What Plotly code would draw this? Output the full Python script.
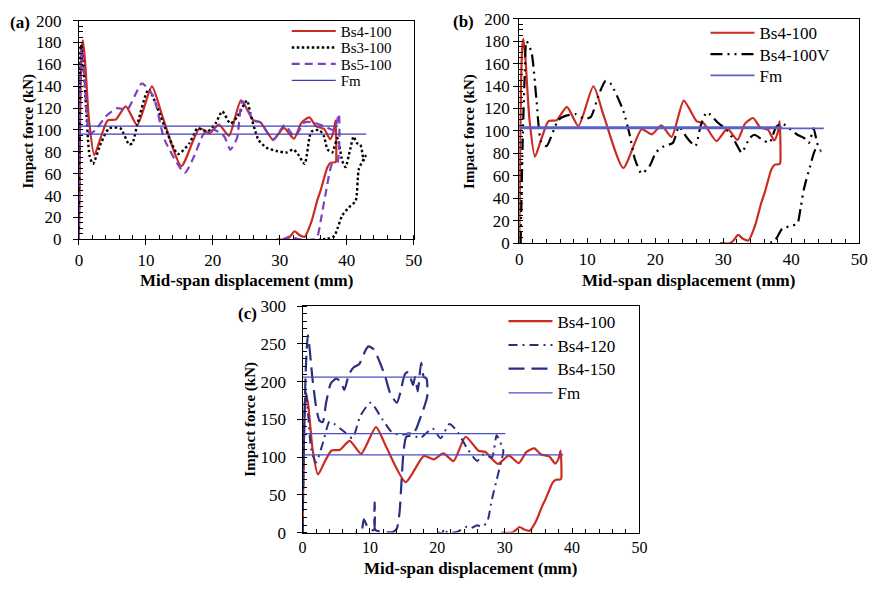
import plotly.graph_objects as go

# ---------------- data ----------------
# Bs4-100 (shared by panels a, b, c)
bs4_100_x = [0.0, 0.1, 0.25, 0.45, 0.6, 0.9, 1.5, 2.3, 3.2, 4.3, 5.5, 7.0, 8.7, 10.9, 12.5,
             15.3, 18.0, 19.5, 20.9, 22.4, 24.2, 26.1, 27.1, 29.0, 30.6, 32.1, 33.2, 34.4,
             35.4, 36.6, 37.5, 38.0, 38.3, 38.4, 38.3, 37.6, 37.1, 36.1, 35.6, 34.7, 33.7,
             32.9, 32.2, 31.5, 31.0, 29.5]
bs4_100_f = [0.0, 60.0, 140.0, 176.0, 182.0, 165.0, 110.0, 77.0, 92.0, 108.8, 109.5, 121.5, 104.4,
             139.8, 112.0, 67.0, 101.5, 97.0, 105.0, 94.7, 127.0, 108.5, 107.0, 91.0, 102.0, 92.0,
             106.5, 111.5, 103.5, 101.0, 91.5, 98.0, 108.5, 72.0, 70.5, 70.0, 66.0, 45.0, 36.0,
             16.0, 2.4, 4.0, 7.4, 2.4, 0.0, 0.0]

# Bs3-100
bs3_100_x = [0.0, 0.1, 0.3, 0.6, 1.1, 1.6, 2.1, 3.3, 4.5, 6.2, 7.5, 8.0, 8.7, 10.4, 12.8, 14.8,
             16.5, 17.7, 19.2, 20.4, 21.4, 22.6, 23.6, 25.1, 25.6, 26.8, 28.0, 29.5, 31.0, 32.0,
             32.7, 33.7, 34.4, 34.7, 35.9, 36.6, 37.1, 37.8, 38.6, 39.3, 39.8, 40.5, 41.0, 41.5,
             42.0, 42.3, 42.5, 42.8, 41.8, 41.3, 40.3, 39.3, 38.6, 38.1, 37.1, 35.9]
bs3_100_f = [0.0, 80.0, 178.0, 165.0, 117.7, 76.4, 69.0, 88.0, 101.5, 101.5, 86.7, 88.0, 104.4,
             137.0, 103.0, 78.0, 88.0, 101.5, 98.5, 106.0, 117.0, 106.0, 111.8, 127.0, 114.8, 91.0,
             83.8, 80.8, 79.4, 82.3, 77.9, 69.0, 92.6, 98.5, 100.0, 94.0, 82.3, 79.4, 92.6, 72.0,
             66.0, 82.3, 94.0, 88.0, 86.7, 79.4, 72.0, 76.4, 64.6, 35.0, 29.2, 21.8, 10.0, 2.7,
             0.6, 0.0]

# Bs5-100
bs5_100_x = [0.0, 0.1, 0.35, 0.8, 1.6, 2.5, 4.0, 5.7, 7.2, 8.4, 9.4, 11.1, 12.8, 15.8, 17.2,
             18.7, 20.2, 21.7, 22.6, 23.6, 24.4, 26.1, 27.1, 29.0, 30.7, 32.2, 33.7, 34.9, 36.4,
             38.1, 38.8, 38.6, 37.8, 36.9, 36.1, 35.6, 35.1, 32.9, 31.5, 30.5]
bs5_100_f = [0.0, 70.0, 174.0, 150.0, 97.0, 100.0, 112.4, 120.0, 118.6, 132.0, 142.7, 131.0, 91.0,
             60.8, 76.0, 97.0, 100.0, 94.0, 82.0, 92.6, 126.5, 108.8, 107.0, 91.0, 104.4, 94.0,
             107.0, 107.0, 104.0, 100.0, 114.8, 70.5, 69.0, 44.0, 17.0, 2.6, 0.0, 0.0, 2.6, 0.0]

# Bs4-100V
bs4_100v_x = [0.2, 0.5, 0.8, 1.06, 1.8, 2.5, 3.2, 4.0, 5.7, 6.6, 8.3, 9.5, 10.5, 11.7, 12.7,
              13.4, 15.3, 16.3, 17.0, 18.0, 19.2, 20.1, 21.3, 22.6, 23.5, 24.7, 25.9, 26.7,
              27.6, 29.1, 30.5, 31.7, 32.7, 33.9, 34.6, 35.8, 36.8, 37.8, 38.7, 39.7, 40.9,
              41.9, 42.6, 43.3, 43.8, 44.3, 43.6, 42.8, 41.9, 41.4, 40.9, 39.9, 38.7, 38.0,
              37.5, 36.6]
bs4_100v_f = [0.0, 90.0, 150.0, 180.0, 170.0, 129.6, 90.8, 86.5, 109.5, 113.0, 115.0, 111.0, 112.3,
              132.5, 144.6, 142.5, 118.0, 95.0, 75.0, 62.0, 69.0, 80.8, 86.5, 89.4, 103.7, 93.7,
              86.5, 105.0, 116.6, 108.0, 101.0, 90.8, 80.8, 93.7, 96.6, 92.0, 89.4, 103.7, 106.6,
              102.3, 96.6, 93.7, 89.4, 102.3, 89.4, 82.0, 83.6, 69.0, 49.0, 32.0, 17.5, 15.2,
              13.2, 6.0, 1.7, 0.3]

# Bs4-120
bs4_120_x = [0.0, 0.2, 0.45, 0.8, 1.3, 2.0, 3.0, 4.0, 4.7, 6.2, 7.4, 8.6, 10.1, 11.8, 13.2,
             14.5, 15.9, 17.4, 19.3, 20.5, 21.8, 23.0, 24.4, 25.9, 26.9, 28.1, 28.8, 29.3, 29.8,
             29.5, 28.8, 28.1, 27.4, 26.6, 25.9, 24.9, 24.4, 23.0, 21.5, 21.0, 20.8, 20.0]
bs4_120_f = [0.0, 120.0, 190.0, 160.0, 110.0, 93.0, 118.0, 147.0, 144.0, 133.5, 125.0, 155.0, 172.0,
             150.7, 133.5, 129.0, 131.5, 125.0, 138.0, 125.0, 144.0, 133.5, 112.0, 95.0, 103.7,
             99.5, 129.0, 120.7, 108.0, 95.0, 69.5, 44.0, 14.0, 7.7, 9.8, 5.5, 7.7, 1.3, 0.0,
             5.5, 0.0, 0.0]

# Bs4-150
bs4_150_x = [0.0, 0.2, 0.5, 0.8, 1.5, 2.0, 2.5, 3.0, 3.5, 4.2, 5.0, 5.7, 6.2, 6.9, 7.6, 8.4,
             9.4, 9.8, 10.6, 11.5, 12.3, 13.0, 14.0, 14.5, 15.2, 15.7, 16.4, 16.7, 17.1, 17.6,
             18.0, 18.4, 18.5, 18.1, 17.6, 16.9, 16.2, 15.4, 15.0, 14.7, 14.4, 14.0, 13.5, 12.5,
             11.8, 10.8, 10.7, 10.6, 9.8, 9.1, 8.8, 8.4, 7.9]
bs4_150_f = [0.0, 120.0, 220.0, 261.6, 202.0, 167.7, 148.5, 146.4, 172.0, 197.6, 204.0, 199.7,
             189.0, 210.0, 219.0, 223.0, 242.4, 246.7, 242.4, 225.0, 206.0, 184.8, 172.0, 184.8,
             210.0, 212.5, 195.5, 206.0, 187.0, 225.0, 206.0, 204.0, 180.5, 167.7, 155.0, 138.0,
             129.0, 127.0, 108.0, 69.5, 27.0, 5.5, 1.3, 0.4, 1.3, 3.4, 39.7, 3.4, 4.7, 17.5,
             3.4, 2.0, 0.4]

# Mean impact force levels (Fm) and the displacement where each line stops
fm_a = [103.5, 96.2]
fm_a_end = [38.7, 42.9]
fm_b = [103.4, 102.3]
fm_b_end = [38.7, 44.8]
fm_c = [206.0, 131.0, 103.0]
fm_c_end = [18.4, 30.1, 38.7]

x_ticks = [0, 10, 20, 30, 40, 50]
y_ticks_ab = [0, 20, 40, 60, 80, 100, 120, 140, 160, 180, 200]
y_ticks_c = [0, 50, 100, 150, 200, 250, 300]

# ---------------- styles ----------------
FONT = "Liberation Serif, Times New Roman, serif"
RED = "#cc2b22"
PURPLE = "#7f40c2"
BLUE = "#3d3fb8"
NAVY = "#2b2f82"
W, H = 880, 591

fig = go.Figure()
legends = {}
legend_count = [0]


def new_legend(x_px, y_px, size):
    """One legend box per entry so each row sits at its own height."""
    legend_count[0] += 1
    key = "legend" if legend_count[0] == 1 else "legend%d" % legend_count[0]
    legends[key] = dict(x=x_px / W, y=1 - y_px / H, xanchor="left", yanchor="middle",
                        bgcolor="rgba(0,0,0,0)", itemwidth=44,
                        font=dict(family=FONT, size=size, color="black"))
    return key


def add_curve(x, y, name, color, dash, width, xa, ya, leg_pos, leg_size=17, smooth=0.6):
    fig.add_trace(go.Scatter(
        x=x, y=y, name=name, mode="lines",
        line=dict(color=color, dash=dash, width=width, shape="spline", smoothing=smooth),
        xaxis=xa, yaxis=ya, legend=new_legend(leg_pos[0], leg_pos[1], leg_size)))


def add_fm(levels, ends, xa, ya, leg_pos, color, width=1.3, leg_size=17):
    key = new_legend(leg_pos[0], leg_pos[1], leg_size)
    for i, (lv, e) in enumerate(zip(levels, ends)):
        fig.add_trace(go.Scatter(
            x=[0, e], y=[lv, lv], name="Fm", mode="lines",
            line=dict(color=color, width=width),
            xaxis=xa, yaxis=ya, legend=key, legendgroup=key,
            showlegend=(i == 0)))


# panel (a)
add_curve(bs4_100_x, bs4_100_f, "Bs4-100", RED, "solid", 2.2, "x", "y", (287, 23), 15)
add_curve(bs3_100_x, bs3_100_f, "Bs3-100", "black", "2.5px,2.5px", 2.4, "x", "y", (287, 40), 15)
add_curve(bs5_100_x, bs5_100_f, "Bs5-100", PURPLE, "8px,5px", 2.2, "x", "y", (287, 57), 15)
add_fm(fm_a, fm_a_end, "x", "y", (287, 74), BLUE, leg_size=15)

# panel (b)
add_curve(bs4_100_x, bs4_100_f, "Bs4-100", RED, "solid", 2.2, "x2", "y2", (712, 25))
add_curve(bs4_100v_x, bs4_100v_f, "Bs4-100V", "black", "12px,5px,2px,5px,2px,5px", 2.2,
          "x2", "y2", (712, 47))
add_fm(fm_b, fm_b_end, "x2", "y2", (712, 69), "#5a60c8", 1.6)

# panel (c)
add_curve(bs4_100_x, bs4_100_f, "Bs4-100", RED, "solid", 2.2, "x3", "y3", (507, 323))
add_curve(bs4_120_x, bs4_120_f, "Bs4-120", NAVY, "9px,5px,2px,5px", 2.0, "x3", "y3", (507, 347.5))
add_curve(bs4_150_x, bs4_150_f, "Bs4-150", NAVY, "16px,7px", 2.2, "x3", "y3", (507, 372))
add_fm(fm_c, fm_c_end, "x3", "y3", (507, 397), "#4a4fc0")


def px_dom(a, b, total):
    return [a / total, b / total]


def y_dom(top, bottom):
    return [1 - bottom / H, 1 - top / H]


def xaxis(dom, anchor, ticks="outside", standoff=0, size=17):
    return dict(domain=dom, anchor=anchor, range=[0, 50], tickvals=x_ticks,
                ticks=ticks, ticklen=5, tickcolor="black", tickwidth=1,
                minor=dict(ticks="inside", ticklen=4, dtick=2, tick0=0, tickcolor="black"),
                showline=True, linecolor="black", linewidth=1, mirror=True,
                showgrid=False, zeroline=False,
                tickfont=dict(family=FONT, size=size, color="black"),
                ticklabelstandoff=standoff)


def yaxis(dom, anchor, rng, vals, minor_dt, standoff=8, size=17):
    return dict(domain=dom, anchor=anchor, range=rng, tickvals=vals,
                ticks="outside", ticklen=5, tickcolor="black", tickwidth=1,
                minor=dict(ticks="inside", ticklen=4, dtick=minor_dt, tick0=0, tickcolor="black"),
                showline=True, linecolor="black", linewidth=1, mirror=True,
                showgrid=False, zeroline=False,
                tickfont=dict(family=FONT, size=size, color="black"),
                ticklabelstandoff=standoff)


annotations = []


def title(text, x_px, y_px, angle=0, size=17):
    annotations.append(dict(text="<b>" + text + "</b>", x=x_px / W, y=1 - y_px / H,
                            xref="paper", yref="paper", showarrow=False, textangle=angle,
                            xanchor="center", yanchor="middle",
                            font=dict(family=FONT, size=size, color="black")))


title("(a)", 16, 14)
title("Impact force (kN)", 25, 126, -90, 15)
title("Mid-span displacement (mm)", 246, 281)
title("(b)", 466, 13)
title("Impact force (kN)", 473, 127, -90, 15)
title("Mid-span displacement (mm)", 695, 281)
title("(c)", 247, 315)
title("Impact force (kN)", 250, 424, -90, 15)
title("Mid-span displacement (mm)", 474, 578)

layout = dict(
    width=W, height=H, margin=dict(l=0, r=0, t=0, b=0),
    paper_bgcolor="white", plot_bgcolor="white",
    xaxis=xaxis(px_dom(76, 416, W), "y"),
    yaxis=yaxis(y_dom(12, 238), "x", [0, 200], y_ticks_ab, 5, standoff=8),
    xaxis2=xaxis(px_dom(523, 868, W), "y2", ticks="inside"),
    yaxis2=yaxis(y_dom(10, 242), "x2", [0, 200], y_ticks_ab, 5, standoff=0),
    xaxis3=xaxis(px_dom(303, 645, W), "y3", ticks="inside", size=16),
    yaxis3=yaxis(y_dom(307, 541), "x3", [0, 300], y_ticks_c, 10, standoff=7),
    annotations=annotations,
    showlegend=True,
)
layout.update(legends)
fig.update_layout(**layout)

fig.write_html("out.html")
